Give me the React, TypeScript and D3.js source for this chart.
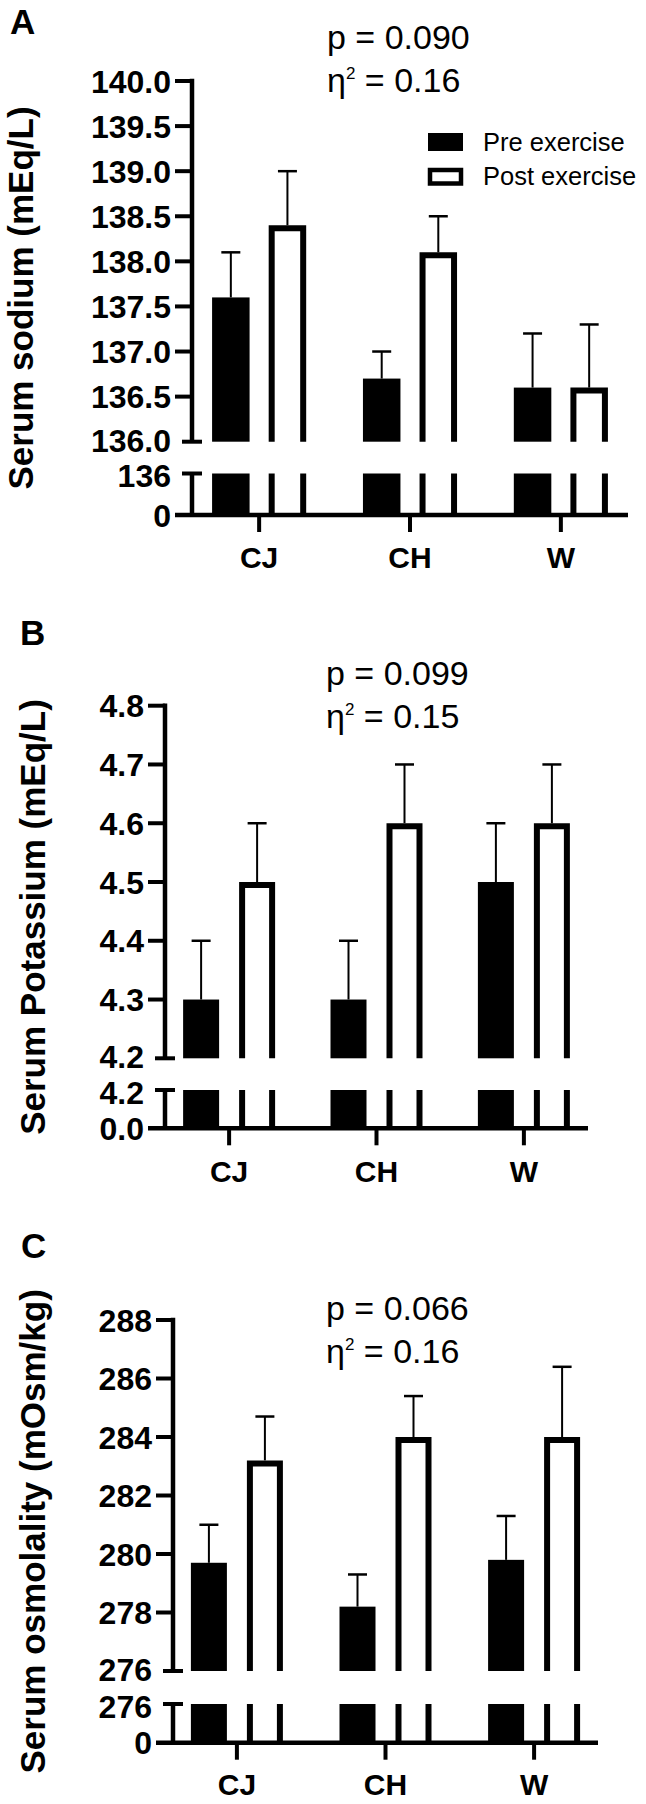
import React from 'react';
import * as d3 from 'd3';

const width = 646;
const height = 1804;
const FONT = '"Liberation Sans", Arial, Helvetica, sans-serif';

// categories and series
const groups = ['CJ', 'CH', 'W'];
const seriesNames = ['Pre exercise', 'Post exercise'];

// serum sodium (mEq/L), mean and SD
const sodiumPre = [137.6, 136.7, 136.6];
const sodiumPreSd = [0.5, 0.3, 0.6];
const sodiumPost = [138.4, 138.1, 136.6];
const sodiumPostSd = [0.6, 0.4, 0.7];
const sodiumTicks = [136.0, 136.5, 137.0, 137.5, 138.0, 138.5, 139.0, 139.5, 140.0];
const sodiumLowTicks = [0, 136];

// serum potassium (mEq/L)
const potassiumPre = [4.3, 4.3, 4.5];
const potassiumPreSd = [0.1, 0.1, 0.1];
const potassiumPost = [4.5, 4.6, 4.6];
const potassiumPostSd = [0.1, 0.1, 0.1];
const potassiumTicks = [4.2, 4.3, 4.4, 4.5, 4.6, 4.7, 4.8];
const potassiumLowTicks = [0, 4.2];

// serum osmolality (mOsm/kg)
const osmoPre = [279.7, 278.2, 279.8];
const osmoPreSd = [1.3, 1.1, 1.5];
const osmoPost = [283.2, 284.0, 284.0];
const osmoPostSd = [1.5, 1.4, 2.4];
const osmoTicks = [276, 278, 280, 282, 284, 286, 288];
const osmoLowTicks = [0, 276];

const panels = [
  {
    letter: 'A', letterX: 10, letterY: 34,
    title: 'Serum sodium (mEq/L)', titleX: 33,
    pText: 'p = 0.090', eta: '0.16', pX: 327, pY: 49,
    pre: sodiumPre, preSd: sodiumPreSd, post: sodiumPost, postSd: sodiumPostSd,
    ticks: sodiumTicks, lowTicks: sodiumLowTicks, fmt: d3.format('.1f'), lowFmt: d3.format('d'),
    axisX: 192, xEnd: 628, pad: 0.445,
    yTop: 81, yBot: 441.7, lowTop: 473.5, lowBot: 515,
    bw: 37.5, off: 28.3, catY: 568,
    legend: true,
  },
  {
    letter: 'B', letterX: 20, letterY: 645,
    title: 'Serum Potassium (mEq/L)', titleX: 45,
    pText: 'p = 0.099', eta: '0.15', pX: 326, pY: 685,
    pre: potassiumPre, preSd: potassiumPreSd, post: potassiumPost, postSd: potassiumPostSd,
    ticks: potassiumTicks, lowTicks: potassiumLowTicks, fmt: d3.format('.1f'), lowFmt: d3.format('.1f'),
    axisX: 165, xEnd: 588, pad: 0.435,
    yTop: 705.7, yBot: 1058.3, lowTop: 1090, lowBot: 1128.3,
    bw: 36, off: 28, catY: 1182,
    legend: false,
  },
  {
    letter: 'C', letterX: 21, letterY: 1258,
    title: 'Serum osmolality (mOsm/kg)', titleX: 45,
    pText: 'p = 0.066', eta: '0.16', pX: 326, pY: 1320,
    pre: osmoPre, preSd: osmoPreSd, post: osmoPost, postSd: osmoPostSd,
    ticks: osmoTicks, lowTicks: osmoLowTicks, fmt: d3.format('d'), lowFmt: d3.format('d'),
    axisX: 173, xEnd: 598, pad: 0.43,
    yTop: 1320, yBot: 1671, lowTop: 1704, lowBot: 1742.7,
    bw: 36, off: 28, catY: 1795,
    legend: false,
  },
];

const AXIS_W = 4.5;
const TICK = 17;
const OUTLINE = 6;
const CAP = 19;
const TICK_FONT = 32;

function Panel({ c }: { c: any }) {
  const x = d3.scalePoint<string>().domain(groups).range([c.axisX, c.xEnd]).padding(c.pad);
  const sub = d3.scalePoint<string>().domain(['pre', 'post']).range([-c.off, c.off]);
  const y = d3.scaleLinear().domain([c.ticks[0], c.ticks[c.ticks.length - 1]]).range([c.yBot, c.yTop]);
  const yLow = d3.scaleLinear().domain([0, c.lowTicks[1]]).range([c.lowBot, c.lowTop]);
  const labelRight = c.axisX - TICK - 4;
  const half = OUTLINE / 2;

  const bars: React.ReactNode[] = [];
  groups.forEach((g, i) => {
    ['pre', 'post'].forEach((s) => {
      const v = s === 'pre' ? c.pre[i] : c.post[i];
      const sd = s === 'pre' ? c.preSd[i] : c.postSd[i];
      const cx = (x(g) as number) + (sub(s) as number);
      const left = cx - c.bw / 2;
      const right = cx + c.bw / 2;
      const top = y(v);
      const errTop = y(v + sd);
      bars.push(
        <g key={g + s}>
          <line x1={cx} x2={cx} y1={top} y2={errTop} stroke="#000" strokeWidth={2} />
          <line x1={cx - CAP / 2} x2={cx + CAP / 2} y1={errTop} y2={errTop} stroke="#000" strokeWidth={2.5} />
          {s === 'pre' ? (
            <>
              <rect x={left} y={top} width={c.bw} height={c.yBot - top} fill="#000" />
              <rect x={left} y={yLow(c.lowTicks[1])} width={c.bw} height={yLow(0) - yLow(c.lowTicks[1])} fill="#000" />
            </>
          ) : (
            <>
              <path
                d={`M${left + half},${c.yBot}V${top + half}H${right - half}V${c.yBot}`}
                fill="#fff"
                stroke="#000"
                strokeWidth={OUTLINE}
              />
              <line x1={left + half} x2={left + half} y1={yLow(c.lowTicks[1])} y2={yLow(0)} stroke="#000" strokeWidth={OUTLINE} />
              <line x1={right - half} x2={right - half} y1={yLow(c.lowTicks[1])} y2={yLow(0)} stroke="#000" strokeWidth={OUTLINE} />
            </>
          )}
        </g>
      );
    });
  });

  const midY = (c.yTop + c.lowBot) / 2;

  return (
    <g fontFamily={FONT}>
      <text x={c.letterX} y={c.letterY} fontSize={35} fontWeight="bold">{c.letter}</text>

      <text x={c.pX} y={c.pY} fontSize={34}>{c.pText}</text>
      <text x={c.pX} y={c.pY + 43} fontSize={34}>
        <tspan>η</tspan>
        <tspan dy={-13.4} fontSize={17}>2</tspan>
        <tspan dy={13.4}>{' = ' + c.eta}</tspan>
      </text>

      <text
        transform={`translate(${c.titleX},${midY}) rotate(-90)`}
        textAnchor="middle"
        fontSize={35}
        fontWeight="bold"
      >
        {c.title}
      </text>

      {bars}

      {/* upper y axis segment */}
      <line x1={c.axisX} x2={c.axisX} y1={c.yTop - AXIS_W / 2} y2={c.yBot} stroke="#000" strokeWidth={AXIS_W} />
      {c.ticks.map((t: number, i: number) => (
        <g key={'t' + i}>
          {i === 0 ? (
            <line x1={c.axisX - 10} x2={c.axisX + 10} y1={y(t)} y2={y(t)} stroke="#000" strokeWidth={4} />
          ) : (
            <line x1={c.axisX - TICK} x2={c.axisX} y1={y(t)} y2={y(t)} stroke="#000" strokeWidth={4} />
          )}
          <text
            x={labelRight}
            y={y(t) + (i === 0 ? -1.5 : 0)}
            dy="0.36em"
            textAnchor="end"
            fontSize={TICK_FONT}
            fontWeight="bold"
          >
            {c.fmt(t)}
          </text>
        </g>
      ))}

      {/* lower y axis segment */}
      <line x1={c.axisX} x2={c.axisX} y1={yLow(c.lowTicks[1])} y2={yLow(0)} stroke="#000" strokeWidth={AXIS_W} />
      <line x1={c.axisX - 10} x2={c.axisX + 10} y1={yLow(c.lowTicks[1])} y2={yLow(c.lowTicks[1])} stroke="#000" strokeWidth={4} />
      {c.lowTicks.map((t: number, i: number) => (
        <text
          key={'l' + i}
          x={labelRight}
          y={yLow(t) + (i === 1 ? 2 : 0)}
          dy="0.36em"
          textAnchor="end"
          fontSize={TICK_FONT}
          fontWeight="bold"
        >
          {c.lowFmt(t)}
        </text>
      ))}

      {/* x axis */}
      <line x1={c.axisX - TICK} x2={c.xEnd} y1={c.lowBot} y2={c.lowBot} stroke="#000" strokeWidth={AXIS_W} />
      {groups.map((g) => (
        <g key={g}>
          <line x1={x(g)} x2={x(g)} y1={c.lowBot} y2={c.lowBot + 17} stroke="#000" strokeWidth={4} />
          <text x={x(g)} y={c.catY} textAnchor="middle" fontSize={30} fontWeight="bold">{g}</text>
        </g>
      ))}

      {c.legend && (
        <g>
          <rect x={428} y={133} width={35} height={18} fill="#000" />
          <text x={483} y={151} fontSize={25.5}>{seriesNames[0]}</text>
          <rect x={430} y={170} width={31} height={13.5} fill="#fff" stroke="#000" strokeWidth={4.5} />
          <text x={483} y={185} fontSize={25.5}>{seriesNames[1]}</text>
        </g>
      )}
    </g>
  );
}

export default function App() {
  return (
    <svg
      width={width}
      height={height}
      viewBox={`0 0 ${width} ${height}`}
      style={{ position: 'absolute', left: 0, top: 0, background: '#fff', display: 'block' }}
    >
      <rect width={width} height={height} fill="#fff" />
      {panels.map((c) => (
        <Panel key={c.letter} c={c} />
      ))}
    </svg>
  );
}
